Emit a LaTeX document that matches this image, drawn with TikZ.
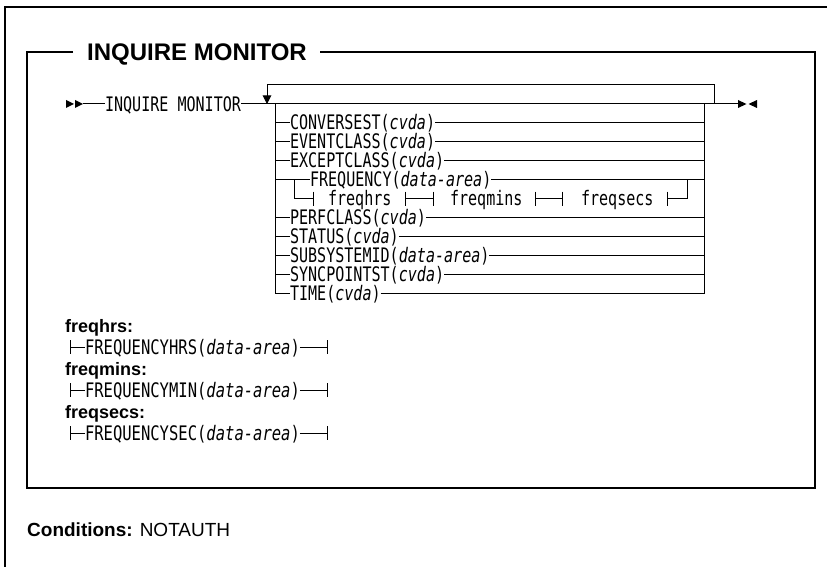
\documentclass[tikz,border=0pt]{standalone}
\usepackage{fontspec}
\setmainfont{Liberation Sans}
\newfontfamily\synfont[FakeStretch=0.753]{DejaVu Sans Mono}
\newfontfamily\deffont[FakeStretch=0.776]{DejaVu Sans Mono}
\usetikzlibrary{arrows.meta}
\begin{document}
\begin{tikzpicture}[x=1pt,y=-1pt,
  frame/.style={line width=1.2pt},
  rail/.style={line width=1pt},
  syn/.style={font=\synfont\fontsize{20}{20}\selectfont, inner sep=0pt, outer sep=0pt, anchor=base west, text height=12pt, text depth=0pt},
  defsyn/.style={syn, font=\deffont\fontsize{20}{20}\selectfont},
  head/.style={font=\bfseries\fontsize{18}{18}\selectfont, inner sep=0pt, anchor=base west},
  tick/.style={line width=1pt}]
\useasboundingbox (0,0) rectangle (827,567);

% outer frame
\coordinate (o1) at (5,567); \coordinate (o2) at (5,7); \coordinate (o3) at (827,7);
\draw[frame] (o1) -- (o2) -- (o3);

% inner box with title
\node[font=\bfseries\fontsize{24}{24}\selectfont, inner sep=0pt, anchor=base west] (title) at (87,61) {INQUIRE MONITOR};
\coordinate (b1) at (73,52); \coordinate (b2) at (27,52); \coordinate (b3) at (27,488);
\coordinate (b4) at (815,488); \coordinate (b5) at (815,52); \coordinate (b6) at (320,52);
\draw[frame] (b1) -- (b2) -- (b3) -- (b4) -- (b5) -- (b6);

% main line
\node[syn] (cmd) at (105,111.2) {INQUIRE MONITOR};
\fill (66,100) -- (74,104) -- (66,108) -- cycle;
\fill (75,100) -- (83,104) -- (75,108) -- cycle;
\coordinate (s) at (83,104);
\coordinate (e) at (738,104);
\draw[rail] (s) -- (cmd.west |- s);
\draw[rail] (cmd.east |- s) -- (e);
\fill (738,100) -- (746.5,104) -- (738,108) -- cycle;
\fill (757,100) -- (748.5,104) -- (757,108) -- cycle;

% repeat loop
\coordinate (lp1) at (714,104); \coordinate (lp2) at (714,85);
\coordinate (lp3) at (267,85);  \coordinate (lp4) at (267,104);
\draw[rail,-{Triangle[length=8.5pt,width=8.5pt]}] (lp1) -- (lp2) -- (lp3) -- (lp4);

% option block verticals
\coordinate (Ltop) at (275,104); \coordinate (Lbot) at (275,293.5);
\coordinate (Rtop) at (704,104); \coordinate (Rbot) at (704,293.5);
\draw[rail] (Ltop) -- (Lbot);
\draw[rail] (Rtop) -- (Rbot);

% option rows
\foreach \i/\txt/\xx in {0/{CONVERSEST(\textit{cvda})}/290,
                        1/{EVENTCLASS(\textit{cvda})}/290,
                        2/{EXCEPTCLASS(\textit{cvda})}/290,
                        3/{FREQUENCY(\textit{data-area})}/310,
                        5/{PERFCLASS(\textit{cvda})}/290,
                        6/{STATUS(\textit{cvda})}/290,
                        7/{SUBSYSTEMID(\textit{data-area})}/290,
                        8/{SYNCPOINTST(\textit{cvda})}/290,
                        9/{TIME(\textit{cvda})}/290}{
  \pgfmathsetmacro\yy{122.5+19*\i}
  \coordinate (rl\i) at (275,\yy);
  \coordinate (rr\i) at (704,\yy);
  \node[syn] (t\i) at (\xx,\yy+7.2) {\txt};
  \draw[rail] (rl\i) -- (t\i.west |- rl\i);
  \draw[rail] (t\i.east |- rr\i) -- (rr\i);
}

% FREQUENCY sub-branch
\coordinate (f1) at (294,179.5); \coordinate (f2) at (294,198.5);
\coordinate (f3) at (687,198.5); \coordinate (f4) at (687,179.5);
\node[syn] (fh) at (328,205.7) {freqhrs};
\node[syn] (fm) at (450,205.7) {freqmins};
\node[syn] (fs) at (581,205.7) {freqsecs};
\coordinate (k1) at (313,198.5); \coordinate (k2) at (405,198.5);
\coordinate (k3) at (433,198.5); \coordinate (k4) at (535,198.5);
\coordinate (k5) at (562,198.5); \coordinate (k6) at (667,198.5);
\draw[rail] (f1) -- (f2) -- (k1);
\draw[rail] (k2) -- (k3);
\draw[rail] (k4) -- (k5);
\draw[rail] (k6) -- (f3) -- (f4);
\foreach \k in {k1,k2,k3,k4,k5,k6}{
  \draw[tick] ([yshift=7pt]\k) -- ([yshift=-7pt]\k);
}

% fragment definitions
\foreach \n/\hd/\body/\yy in {a/{freqhrs:}/{FREQUENCYHRS(\textit{data-area})}/347,
                             b/{freqmins:}/{FREQUENCYMIN(\textit{data-area})}/390,
                             c/{freqsecs:}/{FREQUENCYSEC(\textit{data-area})}/433}{
  \node[head] (h\n) at (65,\yy-14.5) {\hd};
  \node[defsyn] (d\n) at (85,\yy+7.2) {\body};
  \coordinate (ds\n) at (70,\yy);
  \coordinate (de\n) at (327,\yy);
  \draw[rail] (ds\n) -- (d\n.west |- ds\n);
  \draw[rail] (d\n.east |- de\n) -- (de\n);
  \draw[tick] ([yshift=7pt]ds\n) -- ([yshift=-7pt]ds\n);
  \draw[tick] ([yshift=7pt]de\n) -- ([yshift=-7pt]de\n);
}

% conditions
\node[font=\fontsize{19}{19}\selectfont, inner sep=0pt, anchor=base west] (cond) at (27,536) {\textbf{Conditions:} NOTAUTH};
\end{tikzpicture}
\end{document}
